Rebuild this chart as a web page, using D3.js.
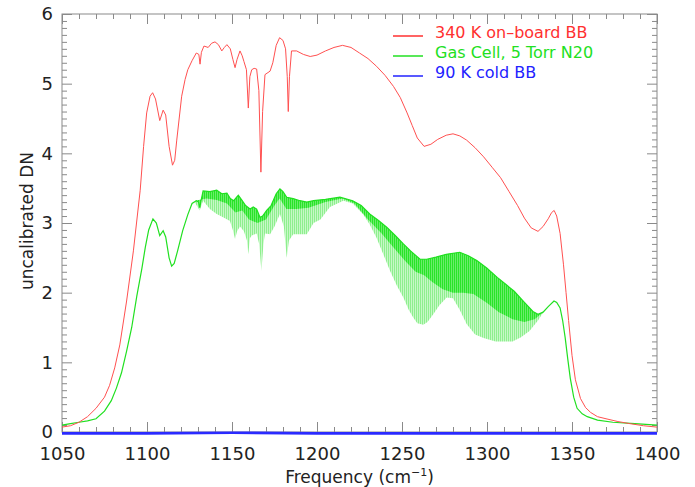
<!DOCTYPE html>
<html>
<head>
<meta charset="utf-8">
<script src="https://cdn.jsdelivr.net/npm/d3@7"></script>
<style>
    body { margin: 0; background: #fff; }
    #chart-area text { font-family: "DejaVu Sans", sans-serif; }
</style>
</head>
<body>
<div id="chart-area"></div>
<script>

// frequency (cm-1), uncalibrated DN
const bb340 = [
    [1050, 0.07], [1055, 0.09], [1060, 0.14], [1065, 0.22], [1070, 0.34], [1075, 0.5], [1078, 0.67],
    [1081, 0.92], [1084, 1.25], [1088, 1.88], [1092, 2.6], [1096, 3.47], [1098, 4.1], [1099.8, 4.58],
    [1101.8, 4.82], [1103.3, 4.87], [1105, 4.78], [1107.5, 4.47], [1109.5, 4.62], [1111, 4.55],
    [1113, 4.1], [1115, 3.83], [1116.3, 3.9], [1117.5, 4.19], [1120.4, 4.82], [1122.4, 5.06],
    [1124, 5.2], [1126.5, 5.33], [1129, 5.44], [1130.5, 5.42], [1131.2, 5.28], [1132, 5.45],
    [1133.5, 5.54], [1136, 5.52], [1138, 5.58], [1140, 5.6], [1142, 5.56], [1144, 5.47],
    [1145.5, 5.52], [1147, 5.56], [1149, 5.5], [1150.5, 5.35], [1151.8, 5.23], [1153, 5.35],
    [1154.7, 5.47], [1156, 5.4], [1157, 5.32], [1158.5, 5.2], [1159.6, 4.65], [1160.5, 5.1],
    [1161.6, 5.2], [1163, 5.22], [1164.5, 5.21], [1165.8, 4.9], [1167, 3.73], [1168, 4.6],
    [1169.4, 5.13], [1172.4, 5.18], [1174, 5.3], [1176, 5.55], [1178, 5.66], [1180, 5.62],
    [1181.5, 5.5], [1182.5, 5.1], [1183.1, 4.6], [1183.8, 5.1], [1185, 5.47], [1188, 5.47],
    [1192, 5.42], [1196, 5.39], [1200, 5.41], [1205, 5.47], [1210, 5.52], [1215, 5.55],
    [1220, 5.52], [1225, 5.44], [1230, 5.36], [1235, 5.25], [1240, 5.12], [1245, 4.96],
    [1249, 4.8], [1253, 4.58], [1256, 4.4], [1259, 4.22], [1263, 4.1], [1267, 4.13], [1271, 4.2],
    [1276, 4.26], [1280, 4.28], [1284, 4.25], [1288, 4.19], [1293, 4.08], [1298, 3.95],
    [1303, 3.8], [1308, 3.65], [1313, 3.45], [1318, 3.25], [1322, 3.07], [1326, 2.93],
    [1330, 2.88], [1333, 2.95], [1336, 3.06], [1338, 3.15], [1339.5, 3.18], [1341, 3.1],
    [1343, 2.85], [1345, 2.4], [1346.5, 2.0], [1348, 1.6], [1350, 1.1], [1352, 0.75],
    [1355, 0.48], [1358, 0.35], [1361, 0.28], [1365, 0.22], [1370, 0.19], [1377, 0.15],
    [1384, 0.12], [1392, 0.09], [1400, 0.07]
];

// gas cell: top edge of the fringes
const gasUpper = [
    [1050, 0.1], [1055, 0.12], [1060, 0.14], [1065, 0.16], [1070, 0.19], [1075, 0.3], [1079, 0.45],
    [1082, 0.63], [1085, 0.85], [1088, 1.16], [1091, 1.5], [1094, 1.95], [1097, 2.35], [1099, 2.65],
    [1101, 2.9], [1103.5, 3.06], [1105.5, 3.0], [1107.5, 2.82], [1109.5, 2.89], [1111, 2.8],
    [1113, 2.5], [1114.5, 2.38], [1116, 2.42], [1118, 2.6], [1121, 2.89], [1124, 3.12],
    [1126.5, 3.28], [1129, 3.32], [1130.3, 3.3], [1131, 3.22], [1131.8, 3.32], [1133, 3.46],
    [1137, 3.45], [1141, 3.47], [1144, 3.42], [1147, 3.43], [1149, 3.35], [1151, 3.32],
    [1153.7, 3.4], [1156, 3.32], [1158, 3.25], [1160.6, 3.2], [1162.5, 3.23], [1164.5, 3.2],
    [1166.5, 3.08], [1168, 3.1], [1170.4, 3.18], [1173, 3.25], [1176, 3.42], [1178.2, 3.49],
    [1180, 3.45], [1182.2, 3.37], [1186, 3.35], [1190, 3.32], [1194, 3.3], [1198, 3.32],
    [1205, 3.34], [1213.5, 3.37], [1221, 3.32], [1226, 3.25], [1231, 3.13], [1236, 3.04],
    [1241, 2.94], [1246, 2.82], [1250.8, 2.7], [1255, 2.6], [1260.6, 2.48], [1264.5, 2.48],
    [1270, 2.51], [1276, 2.55], [1284, 2.58], [1289, 2.53], [1294, 2.46], [1300, 2.35],
    [1306, 2.22], [1311, 2.12], [1316, 2.02], [1322, 1.86], [1327, 1.73], [1330, 1.69],
    [1333, 1.72], [1336, 1.8], [1339.4, 1.88], [1341, 1.86], [1343, 1.78], [1344.5, 1.6],
    [1346, 1.35], [1347.5, 1.05], [1349, 0.77], [1351, 0.5], [1353, 0.34], [1356, 0.26],
    [1359, 0.22], [1365, 0.17], [1374, 0.14], [1387, 0.12], [1400, 0.1]
];

// gas cell: lower edge of the dense (dark) part of the fringes
const gasDense = [
    [1128, 3.32], [1135, 3.35], [1141, 3.33], [1147, 3.28], [1152, 3.15], [1156, 3.18],
    [1160, 3.05], [1165, 3.0], [1170, 3.05], [1175, 3.25], [1178, 3.35], [1182, 3.2],
    [1188, 3.2], [1195, 3.22], [1205, 3.3], [1215, 3.35], [1222, 3.28], [1230, 3.05],
    [1238, 2.85], [1245, 2.65], [1252, 2.45], [1258, 2.3], [1263, 2.25], [1268, 2.15],
    [1274, 2.05], [1280, 2.0], [1286, 2.0], [1292, 1.98], [1300, 1.85], [1307, 1.72],
    [1315, 1.62], [1322, 1.58], [1328, 1.62], [1333, 1.72]
];

// gas cell: bottom edge of the fringes
const gasLower = [
    [1128, 3.3], [1131, 3.18], [1133, 3.32], [1137, 3.2], [1141, 3.13], [1145, 3.08],
    [1148.8, 3.03], [1150.5, 2.9], [1151.8, 2.77], [1153, 2.88], [1154.7, 2.95], [1157, 2.88],
    [1158.8, 2.75], [1159.6, 2.55], [1160.5, 2.78], [1161.6, 2.82], [1164.5, 2.85], [1166, 2.7],
    [1167.3, 2.31], [1168.5, 2.7], [1169.4, 2.85], [1172.4, 2.84], [1175, 2.95], [1178.2, 3.13],
    [1180.5, 2.95], [1182.2, 2.5], [1183.5, 2.75], [1186, 2.84], [1190, 2.84], [1194, 2.84],
    [1198, 3.0], [1202, 3.05], [1207.6, 3.23], [1215.5, 3.32], [1221, 3.28], [1227, 3.13],
    [1231, 2.98], [1235, 2.79], [1239, 2.55], [1243, 2.31], [1247, 2.1], [1250.8, 1.93],
    [1254, 1.75], [1256.7, 1.64], [1259, 1.56], [1262.5, 1.54], [1265, 1.58], [1268.4, 1.69],
    [1272, 1.82], [1276.3, 1.93], [1280, 1.92], [1284, 1.75], [1288, 1.55], [1293, 1.4],
    [1298, 1.35], [1305, 1.3], [1310, 1.3], [1315, 1.3], [1320, 1.36], [1325, 1.45],
    [1330, 1.6], [1334, 1.75], [1337, 1.82]
];

const coldBB = [
    [1050, -0.02], [1100, -0.02], [1150, -0.01], [1200, -0.02], [1250, -0.02],
    [1300, -0.02], [1350, -0.02], [1400, -0.02]
];

const xTicks = [1050, 1100, 1150, 1200, 1250, 1300, 1350, 1400];
const yTicks = [0, 1, 2, 3, 4, 5, 6];
const legendLabels = ["340 K on\u2013board BB", "Gas Cell, 5 Torr N20", "90 K cold BB"];
const legendColors = ["#ff3030", "#22e022", "#2222ff"];


class SpectrumChart {

    constructor(_parentElement) {
        this.parentElement = _parentElement;
        this.initVis();
    }

    initVis() {
        let vis = this;

        vis.margin = { top: 14, right: 38, bottom: 55, left: 62 };
        vis.width = 695 - vis.margin.left - vis.margin.right;
        vis.height = 487 - vis.margin.top - vis.margin.bottom;

        let svgRoot = d3.select("#" + vis.parentElement).append("svg")
            .attr("width", 695)
            .attr("height", 487);

        // vertical streaks for the fringe band
        let defs = svgRoot.append("defs");
        [["fringeLight", "#8eef8e", "#c6f8c6"], ["fringeDense", "#28e428", "#6aed6a"]].forEach(p => {
            let pat = defs.append("pattern")
                .attr("id", p[0])
                .attr("patternUnits", "userSpaceOnUse")
                .attr("width", 2).attr("height", 4);
            pat.append("rect").attr("width", 1).attr("height", 4).attr("fill", p[1]);
            pat.append("rect").attr("x", 1).attr("width", 1).attr("height", 4).attr("fill", p[2]);
        });

        vis.svg = svgRoot.append("g")
            .attr("transform", "translate(" + vis.margin.left + "," + vis.margin.top + ")");

        vis.x = d3.scaleLinear().domain([1050, 1400]).range([0, vis.width]);
        vis.y = d3.scaleLinear().domain([0, 6]).range([vis.height, 0]);

        vis.line = d3.line()
            .x(d => vis.x(d[0]))
            .y(d => vis.y(d[1]));

        vis.drawAxes();
        vis.updateVis();
    }

    drawAxes() {
        let vis = this;

        let xMinor = d3.range(1050, 1401, 10).filter(d => (d - 1050) % 50 !== 0);
        let yMinor = d3.range(0, 61).filter(i => i % 10 !== 0).map(i => i / 10);

        let axes = [
            { gen: d3.axisBottom(vis.x), pos: [0, vis.height], major: xTicks, minor: xMinor, labels: true },
            { gen: d3.axisTop(vis.x), pos: [0, 0], major: xTicks, minor: xMinor, labels: false },
            { gen: d3.axisLeft(vis.y), pos: [0, 0], major: yTicks, minor: yMinor, labels: true },
            { gen: d3.axisRight(vis.y), pos: [vis.width, 0], major: yTicks, minor: yMinor, labels: false }
        ];

        axes.forEach(a => {
            let isX = (a.major === xTicks);
            let g = vis.svg.append("g")
                .attr("transform", "translate(" + a.pos[0] + "," + a.pos[1] + ")")
                .call(a.gen.tickValues(a.major)
                    .tickSizeInner(-10).tickSizeOuter(0)
                    .tickPadding(isX ? 15 : 9)
                    .tickFormat(a.labels ? d3.format("d") : ""));
            g.select(".domain").remove();
            g.selectAll("line").attr("stroke", "#8a8a8a");
            g.selectAll("text")
                .attr("fill", "#222")
                .style("font-size", "18px");

            let gm = vis.svg.append("g")
                .attr("transform", "translate(" + a.pos[0] + "," + a.pos[1] + ")")
                .call(a.gen.tickValues(a.minor).tickSizeInner(-5).tickFormat(""));
            gm.select(".domain").remove();
            gm.selectAll("line").attr("stroke", "#8a8a8a");
        });

        vis.svg.append("rect")
            .attr("width", vis.width)
            .attr("height", vis.height)
            .attr("fill", "none")
            .attr("stroke", "#8a8a8a");

        let xTitle = vis.svg.append("text")
            .attr("x", vis.width / 2)
            .attr("y", vis.height + 51)
            .attr("text-anchor", "middle")
            .attr("fill", "#222")
            .style("font-size", "17px");
        xTitle.append("tspan").text("Frequency (cm");
        xTitle.append("tspan").attr("dy", -7).style("font-size", "11px").text("\u22121");
        xTitle.append("tspan").attr("dy", 7).text(")");

        vis.svg.append("text")
            .attr("transform", "translate(-29," + (vis.height / 2 - 2) + ") rotate(-90)")
            .attr("text-anchor", "middle")
            .attr("fill", "#222")
            .style("font-size", "17px")
            .text("uncalibrated DN");
    }

    updateVis() {
        let vis = this;

        let bandTop = gasUpper.filter(d => d[0] >= 1128 && d[0] <= 1337);
        let denseTop = gasUpper.filter(d => d[0] >= 1128 && d[0] <= 1333);

        // light fringe band
        vis.svg.append("path")
            .datum(bandTop.concat(gasLower.slice().reverse()))
            .attr("d", d => vis.line(d) + "Z")
            .attr("fill", "url(#fringeLight)");

        // dense fringe region
        vis.svg.append("path")
            .datum(denseTop.concat(gasDense.slice().reverse()))
            .attr("d", d => vis.line(d) + "Z")
            .attr("fill", "url(#fringeDense)");

        let series = [
            { data: gasUpper, color: "#20e020", width: 1.2 },
            { data: bb340, color: "#ff5050", width: 1 },
            { data: coldBB, color: "#2a2aff", width: 2.6 }
        ];

        vis.svg.selectAll("path.series")
            .data(series)
            .enter()
            .append("path")
            .attr("class", "series")
            .attr("d", d => vis.line(d.data))
            .attr("fill", "none")
            .attr("stroke", d => d.color)
            .attr("stroke-width", d => d.width);

        // legend
        let leg = vis.svg.append("g")
            .attr("transform", "translate(" + (393 - vis.margin.left) + "," + (38 - vis.margin.top) + ")");

        legendLabels.forEach((label, i) => {
            leg.append("line")
                .attr("x1", 0).attr("x2", 30)
                .attr("y1", i * 20 - 2).attr("y2", i * 20 - 2)
                .attr("stroke", legendColors[i])
                .attr("stroke-width", 1.5);
            leg.append("text")
                .attr("x", 42)
                .attr("y", i * 20)
                .attr("fill", legendColors[i])
                .style("font-size", "16px")
                .text(label);
        });
    }
}

new SpectrumChart("chart-area");

</script>
</body>
</html>
